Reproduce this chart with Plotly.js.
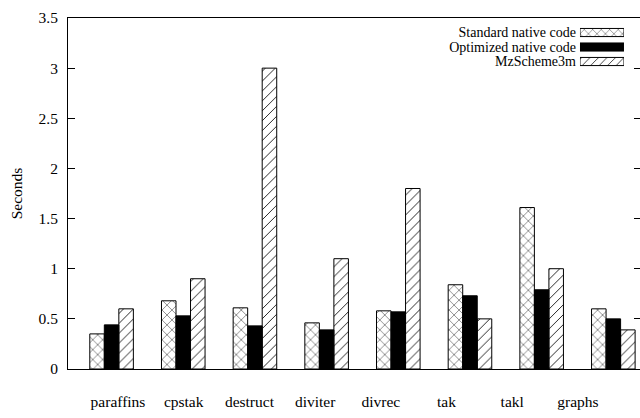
<!DOCTYPE html>
<html><head><meta charset="utf-8">
<script src="https://cdn.plot.ly/plotly-3.0.1.min.js"></script>
<style>html,body{margin:0;padding:0;background:#fff;overflow:hidden}</style>
</head><body>
<div id="chart" style="width:641px;height:418px"></div>
<script>
var categories = ["paraffins","cpstak","destruct","diviter","divrec","tak","takl","graphs"];
var seriesNames = ["Standard native code","Optimized native code","MzScheme3m"];
var standardNative = [0.35,0.68,0.61,0.46,0.58,0.84,1.61,0.60];
var optimizedNative = [0.44,0.53,0.43,0.39,0.57,0.73,0.79,0.50];
var mzScheme = [0.60,0.90,3.00,1.10,1.80,0.50,1.00,0.39];
var yTicks = [0,0.5,1,1.5,2,2.5,3,3.5];
var yTickText = ["0","0.5","1","1.5","2","2.5","3","3.5"];

var FONT = "'Liberation Serif', 'Times New Roman', serif";
var FS = 15.5;
var patterns = [
  {color:"#ffffff", shape:"x"},
  {color:"#000000", shape:""},
  {color:"#ffffff", shape:"/"}
];
var values = [standardNative, optimizedNative, mzScheme];
var idx = categories.map(function(c,i){return i;});

var traces = values.map(function(v,k){
  return {
    type:"bar", x: idx, y: v, name: seriesNames[k], showlegend:false,
    xaxis:"x", yaxis:"y",
    marker:{color:patterns[k].color,
      line:{color:"#000",width:1},
      pattern:{shape:patterns[k].shape, fgcolor:"#000", size:7, solidity:0.12}},
    hoverinfo:"skip"
  };
});
// category labels on a companion axis
traces.push({type:"scatter", x: idx, y: idx.map(function(){return null;}), xaxis:"x2", yaxis:"y", showlegend:false, hoverinfo:"skip", mode:"markers"});
// legend swatches (one per series)
seriesNames.forEach(function(n,k){
  traces.push({
    type:"bar", orientation:"h", y:[n], x:[1],
    xaxis:"x3", yaxis:"y3", showlegend:false, hoverinfo:"skip", width:0.56, offset:-0.28,
    marker:{color:patterns[k].color, line:{color:"#000",width:1},
      pattern:{shape:patterns[k].shape, fgcolor:"#000", size:6, solidity:0.12}}
  });
});

var layout = {
  width:641, height:418,
  margin:{l:68, r:0, t:18, b:49},
  paper_bgcolor:"#fff", plot_bgcolor:"#fff",
  font:{family:FONT, size:FS, color:"#000"},
  barmode:"group", bargap:0.392, bargroupgap:0,
  showlegend:false,
  xaxis:{range:[-0.608,7.386], showgrid:false, zeroline:false, showline:true, mirror:true,
    linecolor:"#000", linewidth:1, ticks:"", showticklabels:false, fixedrange:true},
  xaxis2:{overlaying:"x", anchor:"y", side:"bottom", range:[-0.761,7.96], tickmode:"array", tickvals:idx, ticktext:categories,
    showgrid:false, zeroline:false, showline:false, ticks:"", ticklabelstandoff:21,
    tickfont:{family:FONT,size:FS,color:"#000"}},
  yaxis:{range:[0,3.5], tickmode:"array", tickvals:yTicks, ticktext:yTickText, showgrid:false, zeroline:false,
    showline:true, mirror:"ticks", linecolor:"#000", linewidth:1, ticks:"inside", ticklen:7,
    tickcolor:"#000", ticklabelstandoff:6, tickfont:{family:FONT,size:FS,color:"#000"},
    title:{text:"Seconds", standoff:12, font:{family:FONT,size:FS,color:"#000"}}},
  xaxis3:{domain:[0.8935,0.9703], anchor:"y3", range:[0,1], visible:false, fixedrange:true},
  yaxis3:{domain:[0.8554,0.9793], anchor:"x3", type:"category", autorange:"reversed",
    tickmode:"array", tickvals:seriesNames, ticktext:seriesNames,
    showgrid:false, zeroline:false, showline:false, ticks:"", ticklabelstandoff:3,
    tickfont:{family:FONT,size:14,color:"#000"}}
};
Plotly.newPlot("chart", traces, layout, {staticPlot:true, displayModeBar:false});
</script>
</body></html>
